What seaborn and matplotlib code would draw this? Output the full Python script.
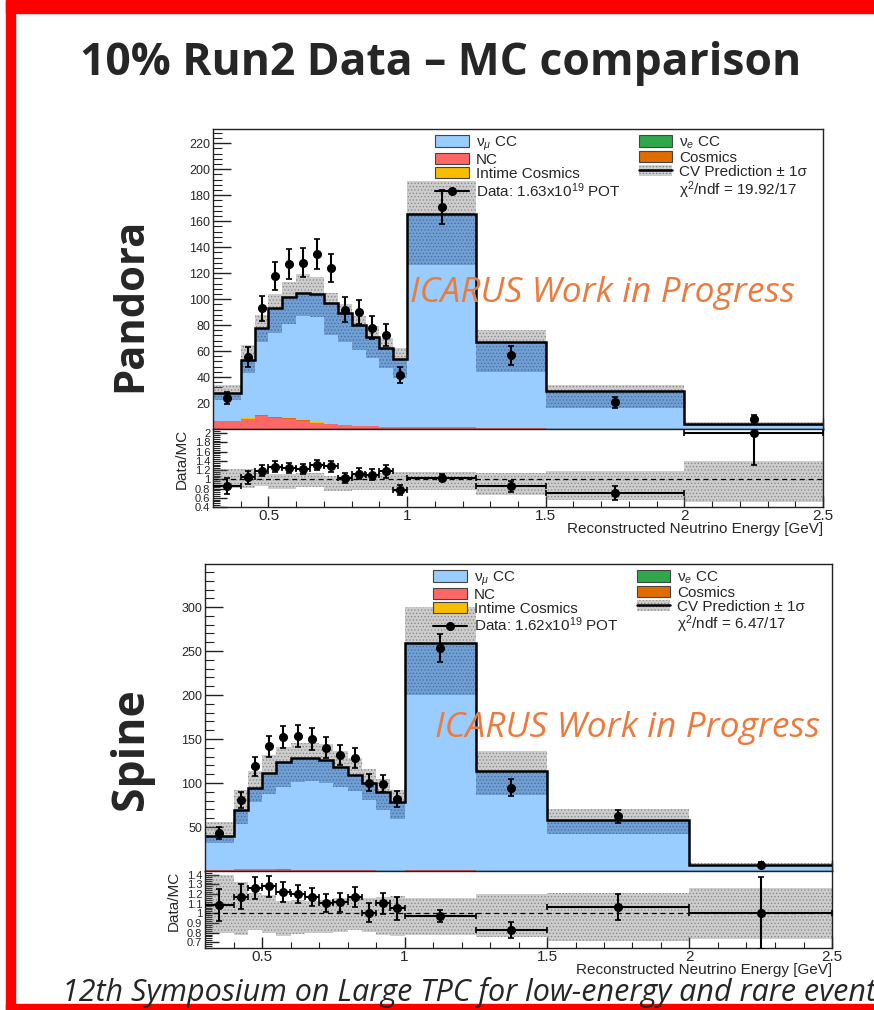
# -*- coding: utf-8 -*-
"""
plot.py
10% Run2 Data - MC comparison (Pandora vs Spine), reconstructed neutrino energy.
"""
import numpy as np
import pandas as pd
import matplotlib
matplotlib.use("Agg")
import matplotlib.pyplot as plt
import seaborn as sns
from matplotlib.patches import Patch, Rectangle
from matplotlib.lines import Line2D
from matplotlib.ticker import FixedLocator, MultipleLocator, FuncFormatter

sns.set_style("ticks")
plt.rcParams["font.family"] = ["Liberation Sans", "DejaVu Sans"]
plt.rcParams["mathtext.fontset"] = "custom"
plt.rcParams["mathtext.rm"] = "Liberation Sans"
plt.rcParams["mathtext.it"] = "Liberation Sans:italic"
plt.rcParams["mathtext.bf"] = "Liberation Sans:bold"
plt.rcParams["hatch.linewidth"] = 0.6

# === Binning (GeV) ===
bin_edges = [0.3, 0.4, 0.45, 0.5, 0.55, 0.6, 0.65, 0.7, 0.75, 0.8, 0.85,
             0.9, 0.95, 1.0, 1.25, 1.5, 2.0, 2.5]

# === Pandora ===
pandora_numu = [21.7, 44.4, 67.4, 83.9, 93.9, 98.3, 98.3, 92.8, 85.6, 77.4,
                68.9, 60.1, 52.5, 164.0, 66.2, 28.7, 3.9]
pandora_nue = [0.0, 0.0, 0.0, 0.0, 0.0, 0.0, 0.0, 0.0, 0.0, 0.0,
               0.0, 0.0, 0.0, 0.0, 0.0, 0.0, 0.0]
pandora_nc = [6.0, 8.0, 10.0, 8.5, 7.7, 6.4, 5.0, 4.0, 3.3, 2.5,
              2.0, 1.8, 1.5, 1.5, 0.8, 0.3, 0.1]
pandora_cosmics = [0.2, 0.3, 0.4, 0.4, 0.3, 0.2, 0.2, 0.1, 0.1, 0.1,
                   0.1, 0.1, 0.0, 0.1, 0.0, 0.0, 0.0]
pandora_intime = [0.1, 0.1, 0.2, 0.2, 0.1, 0.1, 0.1, 0.1, 0.0, 0.0,
                  0.0, 0.0, 0.0, 0.0, 0.0, 0.0, 0.0]
pandora_band_lo = [22.5, 43, 67, 74, 81, 87, 86, 72.5, 67, 61,
                   55, 47, 39, 126, 44, 16, 2.0]
pandora_band_hi = [34, 65, 88, 104, 113, 119, 117, 105, 96, 87,
                   79, 70, 62, 191, 76, 34, 5.6]
pandora_data = [23.8, 55.4, 92.8, 118, 127, 128, 135, 124, 92, 90,
                78, 72.5, 41.5, 171, 56.7, 20.5, 8.0]
pandora_err = [4.8, 7.4, 9.6, 10.9, 11.3, 11.3, 11.6, 11.1, 9.6, 9.5,
               8.8, 8.5, 6.4, 13.1, 7.5, 4.5, 2.8]

# === Spine ===
spine_numu = [37.9, 67.0, 91.8, 109.0, 122.6, 126.4, 127.3, 124.9, 117.2, 108.9,
              99.4, 89.5, 77.6, 258.9, 113.5, 58.0, 7.2]
spine_nue = [0.0, 0.0, 0.0, 0.0, 0.0, 0.0, 0.0, 0.0, 0.0, 0.0,
             0.0, 0.0, 0.0, 0.0, 0.0, 0.0, 0.0]
spine_nc = [1.5, 1.8, 2.0, 1.8, 1.6, 1.4, 1.2, 1.0, 0.8, 0.7,
            0.6, 0.5, 0.4, 0.6, 0.3, 0.2, 0.0]
spine_cosmics = [0.1, 0.1, 0.1, 0.1, 0.1, 0.1, 0.1, 0.1, 0.0, 0.0,
                 0.0, 0.0, 0.0, 0.0, 0.0, 0.0, 0.0]
spine_intime = [0.1, 0.1, 0.1, 0.1, 0.1, 0.0, 0.0, 0.0, 0.0, 0.0,
                0.0, 0.0, 0.0, 0.0, 0.0, 0.0, 0.0]
spine_band_lo = [31.6, 53.7, 78, 88, 95.5, 101, 102, 100, 95.5, 91,
                 80.3, 69.6, 59.4, 200, 86, 41.5, 5.3]
spine_band_hi = [55.5, 91.7, 113.8, 131.7, 140.4, 145.7, 145.7, 144, 136.6, 129,
                 116.4, 105, 91.7, 300, 136.6, 70.8, 9.1]
spine_data = [43, 81, 119, 142, 152, 153.7, 150, 140, 131.7, 128,
              100.5, 99.3, 82, 253, 94.4, 62, 7.2]
spine_err = [6.6, 9.0, 10.9, 11.9, 12.3, 12.4, 12.2, 11.8, 11.5, 11.3,
             10.0, 10.0, 9.1, 15.9, 9.7, 7.9, 2.7]

# === Textos ===
title = "10% Run2 Data – MC comparison"
footer = "12th Symposium on Large TPC for low-energy and rare event searches"
watermark = "ICARUS Work in Progress"

# === Estilo ===
stack_order = ["numu", "nue", "cosmics", "intime", "nc"]
palette = {"numu": "#99ccff", "nue": "#2ea84a", "nc": "#ff6666",
           "cosmics": "#e06c00", "intime": "#f7bd00"}
# banda ±1σ: sobre blanco se ve gris, sobre el stack azul se ve azul oscuro
band_grey = dict(facecolor=(0.40, 0.40, 0.40, 0.32),
                 edgecolor=(0.28, 0.28, 0.28, 0.45), hatch=".....", linewidth=0)
band_blue = dict(facecolor=(0.08, 0.22, 0.45, 0.30),
                 edgecolor=(0.10, 0.20, 0.38, 0.40), hatch=".....", linewidth=0)
ORANGE = "#ec7a3c"
RED = "#ff0000"

edges = np.array(bin_edges)
centers = 0.5 * (edges[1:] + edges[:-1])
halfw = 0.5 * (edges[1:] - edges[:-1])

W, H = 874, 1010
fig = plt.figure(figsize=(W / 100, H / 100), dpi=100)


def box(x0, y0, x1, y1):
    """Pixeles (origen arriba-izquierda) -> fracción de figura"""
    return [x0 / W, 1 - y1 / H, (x1 - x0) / W, (y1 - y0) / H]


def fit_text(t, length_px, vertical=False):
    r = fig.canvas.get_renderer()
    bb = t.get_window_extent(renderer=r)
    cur = bb.height if vertical else bb.width
    t.set_fontsize(t.get_fontsize() * length_px / cur)


def draw_panel(ax, axr, comps, band_lo, band_hi, data, err, pot, chi2,
               ylim, ymajor, yminor, rlim, rmajor, rminor):
    df = pd.DataFrame({
        "energy": np.tile(centers, len(stack_order)),
        "events": np.concatenate([comps[k] for k in stack_order]),
        "component": np.repeat(stack_order, len(centers)),
    })
    sns.histplot(data=df, x="energy", weights="events", hue="component",
                 hue_order=stack_order, palette=palette, bins=bin_edges,
                 multiple="stack", element="step", alpha=1, linewidth=0,
                 legend=False, ax=ax)
    total = np.sum([comps[k] for k in stack_order], axis=0)
    lo, hi = np.array(band_lo), np.array(band_hi)
    data, err = np.array(data), np.array(err)

    # banda: parte bajo la línea CV (sobre azul) y parte encima (sobre blanco)
    ax.stairs(np.minimum(hi, total), edges, baseline=lo, fill=True, **band_blue)
    ax.stairs(hi, edges, baseline=np.maximum(lo, total), fill=True, **band_grey)
    ax.stairs(total, edges, baseline=None, color="black", lw=1.8)
    ax.errorbar(centers, data, yerr=err, fmt="o", color="black", ms=5.5,
                elinewidth=1.5, capsize=2, capthick=1.2, zorder=5)

    ax.set_xlim(edges[0], edges[-1])
    ax.set_ylim(*ylim)
    ax.set_xlabel("")
    ax.set_ylabel("")
    ax.yaxis.set_major_locator(FixedLocator(ymajor))
    ax.yaxis.set_minor_locator(MultipleLocator(yminor))

    # leyenda estilo ROOT
    handles = [
        Patch(facecolor=palette["numu"], edgecolor="#444444", lw=0.8),
        Patch(facecolor=palette["nc"], edgecolor="#444444", lw=0.8),
        Patch(facecolor=palette["intime"], edgecolor="#444444", lw=0.8),
        Line2D([], [], color="black", marker="o", ms=5.5, lw=1.5),
        Patch(facecolor=palette["nue"], edgecolor="#444444", lw=0.8),
        Patch(facecolor=palette["cosmics"], edgecolor="#444444", lw=0.8),
        (Patch(**band_grey), Line2D([], [], color="black", lw=1.8)),
        Line2D([], [], linestyle="none"),
    ]
    labels = ["ν$_{\\mu}$ CC", "NC", "Intime Cosmics",
              "Data: " + pot + "x10$^{19}$ POT",
              "ν$_{e}$ CC", "Cosmics", "CV Prediction ± 1σ",
              "χ$^{2}$/ndf = " + chi2]
    ax.legend(handles, labels, ncol=2, loc="upper left",
              bbox_to_anchor=(0.354, 1.003), frameon=False, fontsize=11,
              handlelength=2.2, handleheight=0.8, handletextpad=0.45,
              labelspacing=0.0, columnspacing=1.2, borderaxespad=0)

    # panel de cociente Data/MC
    axr.stairs(hi / total, edges, baseline=lo / total, fill=True, **band_grey)
    axr.axhline(1, ls="--", color="black", lw=0.9, dashes=(4, 3))
    axr.errorbar(centers, data / total, xerr=halfw, yerr=err / total, fmt="o",
                 color="black", ms=5.5, elinewidth=1.5, capsize=2, capthick=1.2,
                 zorder=5)
    axr.set_xlim(edges[0], edges[-1])
    axr.set_ylim(*rlim)
    axr.yaxis.set_major_locator(FixedLocator(rmajor))
    axr.yaxis.set_minor_locator(MultipleLocator(rminor))
    axr.yaxis.set_major_formatter(FuncFormatter(lambda v, p: "%g" % round(v, 2)))
    axr.xaxis.set_major_locator(MultipleLocator(0.5))
    axr.xaxis.set_minor_locator(MultipleLocator(0.1))
    axr.xaxis.set_major_formatter(FuncFormatter(lambda v, p: "%g" % v))
    axr.set_ylabel("Data/MC", fontsize=11, loc="top", labelpad=4)
    axr.set_xlabel("Reconstructed Neutrino Energy [GeV]", fontsize=11,
                   loc="right", labelpad=-1)

    for a in (ax, axr):
        for s in a.spines.values():
            s.set_linewidth(1.0)
            s.set_color("#222222")
        a.tick_params(which="both", direction="in", top=False, right=False,
                      color="#222222")
        a.tick_params(axis="y", which="major", length=13, width=1.0, pad=2,
                      labelsize=9)
        a.tick_params(axis="y", which="minor", length=6.5, width=0.8)
        a.tick_params(axis="x", which="major", length=8, width=1.0)
        a.tick_params(axis="x", which="minor", length=4.5, width=0.8)
    ax.tick_params(axis="x", labelbottom=False)
    axr.tick_params(axis="y", which="major", length=10, labelsize=8)
    axr.tick_params(axis="y", which="minor", length=5)
    axr.tick_params(axis="x", labelsize=11, pad=1.5)


# === Paneles ===
ax_p = fig.add_axes(box(213, 129, 823, 429))
ax_pr = fig.add_axes(box(213, 429, 823, 507))
ax_s = fig.add_axes(box(205, 564, 832, 871))
ax_sr = fig.add_axes(box(205, 871, 832, 948))

draw_panel(ax_p, ax_pr,
           {"numu": pandora_numu, "nue": pandora_nue, "nc": pandora_nc,
            "cosmics": pandora_cosmics, "intime": pandora_intime},
           pandora_band_lo, pandora_band_hi, pandora_data, pandora_err,
           "1.63", "19.92/17", (0, 231), list(range(20, 221, 20)), 4,
           (0.4, 2.09), [0.4, 0.6, 0.8, 1.0, 1.2, 1.4, 1.6, 1.8, 2.0], 0.04)
draw_panel(ax_s, ax_sr,
           {"numu": spine_numu, "nue": spine_nue, "nc": spine_nc,
            "cosmics": spine_cosmics, "intime": spine_intime},
           spine_band_lo, spine_band_hi, spine_data, spine_err,
           "1.62", "6.47/17", (0, 349), list(range(50, 301, 50)), 10,
           (0.64, 1.44), [0.7, 0.8, 0.9, 1.0, 1.1, 1.2, 1.3, 1.4], 0.02)

# === Marcos rojos de la diapositiva ===
for (x0, y0, x1, y1) in [(6, 0, 15, H), (6, 0, W, 13), (6, 1004, W, H)]:
    fig.patches.append(Rectangle((x0 / W, 1 - y1 / H), (x1 - x0) / W, (y1 - y0) / H,
                                 transform=fig.transFigure, color=RED, zorder=0))

# === Textos de la diapositiva ===
t = fig.text(80 / W, 1 - 75 / H, title, fontsize=30, fontweight="bold",
             family=["Open Sans", "DejaVu Sans"], ha="left", va="baseline")
fit_text(t, 720)

for label, yc, length in [("Pandora", 305, 175), ("Spine", 749, 122)]:
    t = fig.text(131 / W, 1 - yc / H, label, fontsize=26, fontweight="bold",
                 rotation=90, family=["Open Sans", "DejaVu Sans"],
                 ha="center", va="center")
    fit_text(t, length, vertical=True)

for x0, yb in [(410, 302), (435, 737)]:
    t = fig.text(x0 / W, 1 - yb / H, watermark, fontsize=20, style="italic",
                 color=ORANGE, family=["Open Sans", "DejaVu Sans"],
                 ha="left", va="baseline", zorder=10)
    fit_text(t, 385)

t = fig.text(62 / W, 1 - 1001 / H, "12th Symposium on Large TPC for low-energy and rare even",
             fontsize=20, style="italic", family=["Open Sans", "DejaVu Sans"],
             ha="left", va="baseline")
fit_text(t, 806)
t.set_text(footer)

fig.savefig("out.png", dpi=100)
plt.close(fig)
